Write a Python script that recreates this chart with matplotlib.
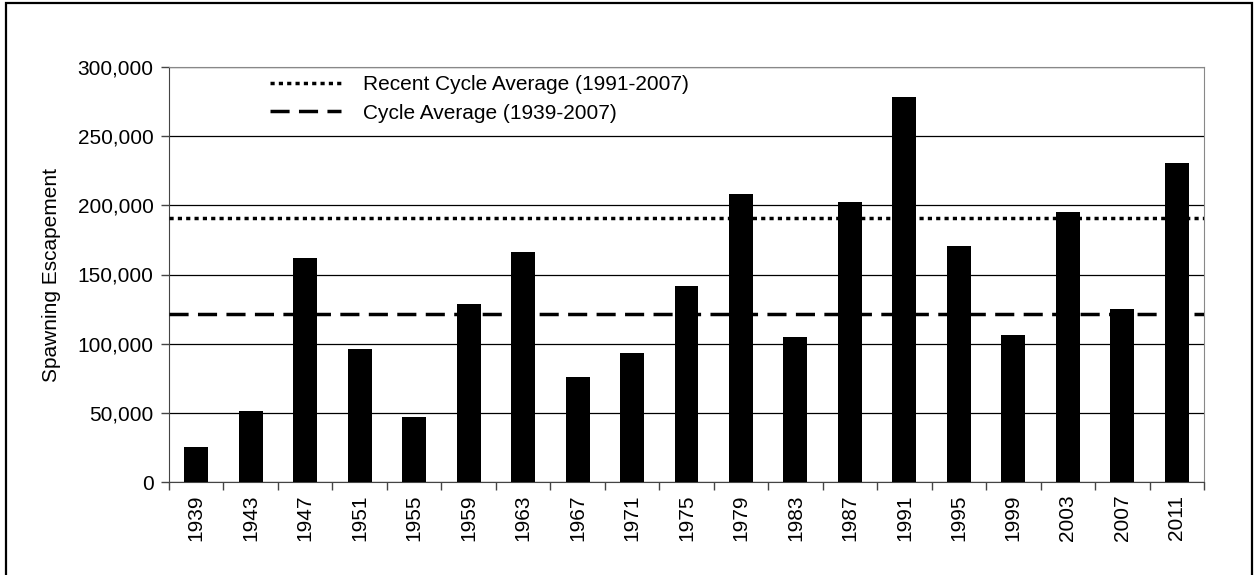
import numpy as np
import matplotlib
matplotlib.use("Agg")
import matplotlib.pyplot as plt
from matplotlib.patches import Rectangle
from matplotlib.ticker import FuncFormatter, FixedLocator

plt.rcParams['font.family'] = ['Liberation Sans', 'DejaVu Sans']

# data
years = ['1939', '1943', '1947', '1951', '1955', '1959', '1963', '1967', '1971', '1975',
         '1979', '1983', '1987', '1991', '1995', '1999', '2003', '2007', '2011']
escapement = [25000, 51000, 162000, 96000, 46700, 128800, 166400, 75600, 93000, 141800,
              208000, 104500, 202300, 278600, 170700, 106000, 195000, 124700, 230900]
recent_avg = 191000   # 1991-2007
cycle_avg = 121400    # 1939-2007

fig = plt.figure(figsize=(12.59, 5.75), dpi=100)
ax = fig.add_axes([169/1259, 1 - 482/575, (1204 - 169)/1259, (482 - 67)/575])

x = np.arange(len(years))
ax.bar(x, escapement, width=0.44, color='black', zorder=3)

ax.axhline(recent_avg, color='black', lw=2.5, linestyle=(0, (1.2, 1.2)),
           dash_capstyle='butt', zorder=4, label='Recent Cycle Average (1991-2007)')
ax.axhline(cycle_avg, color='black', lw=2.5, linestyle=(0, (5.5, 2.7)),
           dash_capstyle='butt', zorder=4, label='Cycle Average (1939-2007)')

ax.set_xlim(-0.5, len(years) - 0.5)
ax.set_ylim(0, 300000)
ax.set_yticks(np.arange(0, 300001, 50000))
ax.yaxis.set_major_formatter(FuncFormatter(lambda v, p: f'{int(v):,}'))
ax.yaxis.grid(True, color='black', lw=0.9, zorder=0)
ax.set_axisbelow(True)

ax.set_xticks(x)
ax.set_xticklabels(years, rotation=90, fontsize=15)
ax.tick_params(axis='x', which='major', length=0, pad=9)
ax.xaxis.set_minor_locator(FixedLocator(np.arange(-0.5, len(years), 1)))
ax.tick_params(axis='x', which='minor', length=6, width=1, color='#444444', direction='out')
ax.tick_params(axis='y', labelsize=15, length=6, width=1, color='#444444', pad=5)

for side in ['top', 'right']:
    ax.spines[side].set_color('#888888')
ax.spines['left'].set_color('#444444')
ax.spines['bottom'].set_color('#444444')

ax.set_ylabel('Spawning Escapement', fontsize=15, labelpad=12)

ax.legend(loc='upper left', bbox_to_anchor=((270 - 169)/1035, 0.98), frameon=False,
          fontsize=15, handlelength=3.4, handletextpad=1.05, labelspacing=0.45,
          borderpad=0, borderaxespad=0)

fig.patches.append(Rectangle((6/1259, -0.05), (1252 - 6)/1259, 1.05 - 3/575,
                             transform=fig.transFigure, fill=False,
                             edgecolor='black', lw=1.6))

fig.savefig('out.png', dpi=100)
